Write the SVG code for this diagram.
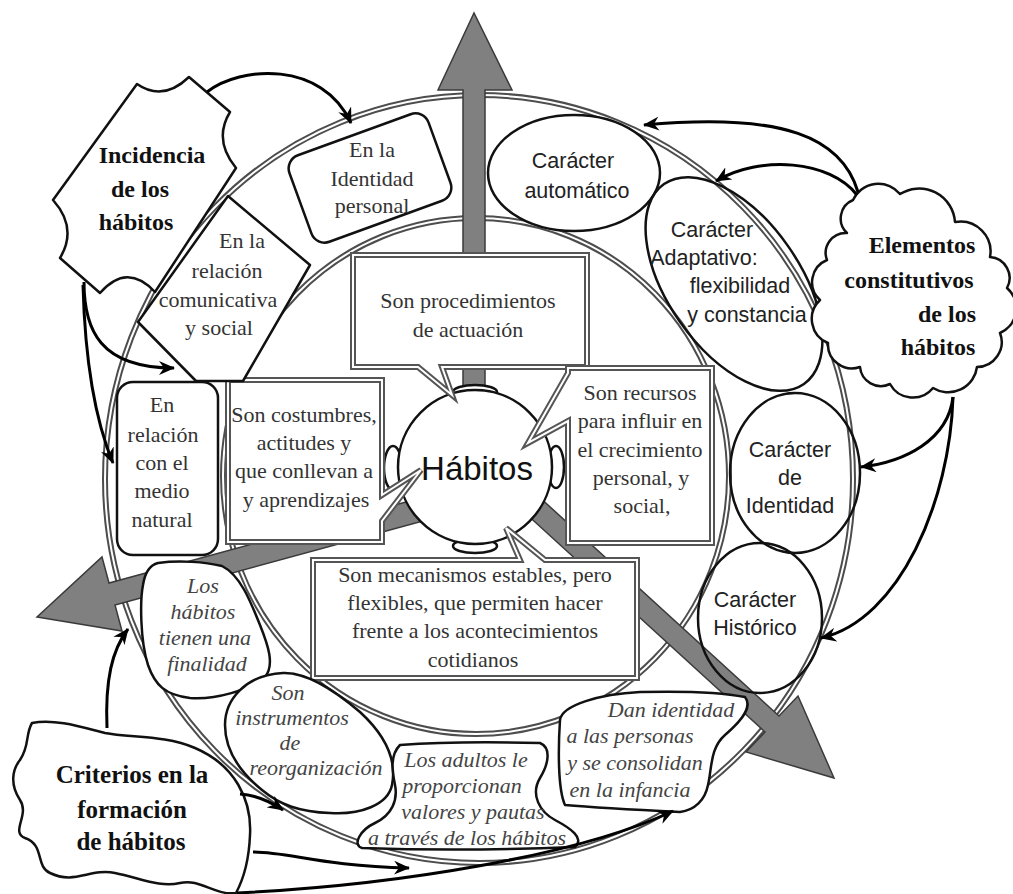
<svg xmlns="http://www.w3.org/2000/svg" width="1013" height="894" viewBox="0 0 1013 894">
<defs>
<style>
.ring-o{fill:none;stroke:#4d4d4d;stroke-width:6}
.ring-i{fill:none;stroke:#fff;stroke-width:2}
.ray{fill:#808080;stroke:#3a3a3a;stroke-width:1.5;stroke-linejoin:miter}
.nd{fill:#fff;stroke:#111;stroke-width:2.5;stroke-linejoin:round}
.ndn{fill:none;stroke:#111;stroke-width:2.5}
.sb-o{fill:#fff;stroke:#555;stroke-width:6;stroke-linejoin:miter}
.sb-i{fill:none;stroke:#fff;stroke-width:2;stroke-linejoin:miter}
.con{fill:none;stroke:#000;stroke-width:3;marker-end:url(#ah)}
.serif{font-family:"Liberation Serif","Times New Roman",serif;font-size:22px;fill:#333;text-anchor:middle}
.sans{font-family:"Liberation Sans",Arial,sans-serif;font-size:21.5px;fill:#222;text-anchor:middle}
.bold{font-family:"Liberation Serif","Times New Roman",serif;font-weight:bold;font-size:24px;fill:#111;text-anchor:middle}
.ital{font-family:"Liberation Serif","Times New Roman",serif;font-style:italic;font-size:22px;fill:#444;text-anchor:middle}
.big{font-family:"Liberation Sans",Arial,sans-serif;font-size:33px;fill:#111;text-anchor:middle}
</style>
<marker id="ah" markerUnits="userSpaceOnUse" markerWidth="18" markerHeight="14" refX="15" refY="7" orient="auto">
<path d="M0,0 L16,7 L0,14 L5,7 Z" fill="#000"/>
</marker>
</defs>
<rect width="1013" height="894" fill="#fff"/>

<g id="rings">
<ellipse class="ring-o" cx="479" cy="479" rx="374" ry="384"/>
<ellipse class="ring-i" cx="479" cy="479" rx="374" ry="384"/>
<ellipse class="ring-o" cx="476" cy="476" rx="253" ry="258"/>
<ellipse class="ring-i" cx="476" cy="476" rx="253" ry="258"/>
</g>

<g id="rays">
<polygon class="ray" points="463,395 463,90 438,90 474,13 512,90 485,90 485,395"/>
<polygon class="ray" points="417,499 109,583 102,557 37,617 122,631 115,605 423,521"/>
<polygon class="ray" points="537,495 779,716 798,696 834,778 746,752 765,732 523,511"/>
</g>

<g id="habitos">
<ellipse class="nd" cx="475" cy="392" rx="22" ry="7"/>
<ellipse class="nd" cx="475" cy="546" rx="22" ry="7"/>
<ellipse class="nd" cx="393" cy="468" rx="9" ry="22"/>
<ellipse class="nd" cx="556" cy="467" rx="8" ry="21"/>
<circle class="nd" cx="475" cy="467" r="77"/>
<text class="big" x="477" y="480">Hábitos</text>
</g>

<g id="sb-top">
<path class="sb-o" d="M353,255 H587 V367 H442 L452,395 L418,367 H353 Z"/>
<path class="sb-i" d="M353,255 H587 V367 H442 L452,395 L418,367 H353 Z"/>
<text class="serif" x="468" y="308">Son procedimientos</text>
<text class="serif" x="468" y="337">de actuación</text>
</g>

<g id="sb-left">
<path class="sb-o" d="M228,380 H382 V495 L421,470 L382,521 V542 H228 Z"/>
<path class="sb-i" d="M228,380 H382 V495 L421,470 L382,521 V542 H228 Z"/>
<text class="serif" x="304" y="422">Son costumbres,</text>
<text class="serif" x="304" y="450">actitudes y</text>
<text class="serif" x="304" y="478">que conllevan a</text>
<text class="serif" x="306" y="507">y aprendizajes</text>
</g>

<g id="sb-right">
<path class="sb-o" d="M568,368 H712 V543 H568 V421 L528,443 L568,373 Z"/>
<path class="sb-i" d="M568,368 H712 V543 H568 V421 L528,443 L568,373 Z"/>
<text class="serif" x="640" y="400">Son recursos</text>
<text class="serif" x="640" y="428">para influir en</text>
<text class="serif" x="640" y="457">el crecimiento</text>
<text class="serif" x="641" y="485">personal,  y</text>
<text class="serif" x="642" y="513">social,</text>
</g>

<g id="sb-bottom">
<path class="sb-o" d="M313,560 H520 L506,528 L545,560 H637 V678 H313 Z"/>
<path class="sb-i" d="M313,560 H520 L506,528 L545,560 H637 V678 H313 Z"/>
<text class="serif" x="475" y="582">Son mecanismos estables, pero</text>
<text class="serif" x="475" y="610">flexibles, que permiten  hacer</text>
<text class="serif" x="475" y="638">frente a los acontecimientos</text>
<text class="serif" x="473" y="667">cotidianos</text>
</g>

<g id="n-identidad-personal">
<rect class="nd" x="296" y="132" width="148" height="92" rx="14" transform="rotate(-20 370 178)"/>
<text class="serif" x="372" y="157">En la</text>
<text class="serif" x="372" y="186">Identidad</text>
<text class="serif" x="372" y="213">personal</text>
</g>

<g id="n-comunicativa">
<polygon class="nd" points="228,196 310,265 243,381 196,381 138,322"/>
<text class="serif" x="242" y="248">En la</text>
<text class="serif" x="227" y="278">relación</text>
<text class="serif" x="218" y="307">comunicativa</text>
<text class="serif" x="219" y="335">y social</text>
</g>

<g id="n-medio-natural">
<rect class="nd" x="117" y="382" width="101" height="173" rx="16"/>
<text class="serif" x="162" y="412">En</text>
<text class="serif" x="163" y="442">relación</text>
<text class="serif" x="162" y="470">con el</text>
<text class="serif" x="162" y="498">medio</text>
<text class="serif" x="162" y="527">natural</text>
</g>

<g id="n-automatico">
<ellipse class="nd" cx="574" cy="173" rx="86" ry="58"/>
<text class="sans" x="573" y="168">Carácter</text>
<text class="sans" x="577" y="198">automático</text>
</g>

<g id="n-adaptativo">
<ellipse class="ndn" cx="734" cy="284" rx="122" ry="66" transform="rotate(55 734 284)"/>
<text class="sans" x="712" y="237">Carácter</text>
<text class="sans" x="704" y="265">Adaptativo:</text>
<text class="sans" x="740" y="293">flexibilidad</text>
<text class="sans" x="747" y="322">y constancia</text>
</g>

<g id="n-identidad">
<ellipse class="ndn" cx="795" cy="473" rx="65" ry="80"/>
<text class="sans" x="790" y="457">Carácter</text>
<text class="sans" x="790" y="485">de</text>
<text class="sans" x="790" y="513">Identidad</text>
</g>

<g id="n-historico">
<ellipse class="ndn" cx="760" cy="618" rx="62" ry="75"/>
<text class="sans" x="755" y="607">Carácter</text>
<text class="sans" x="755" y="635">Histórico</text>
</g>

<g id="n-finalidad">
<path class="nd" d="M158,563 C180,560 205,562 222,566 C240,575 250,600 260,625 C268,645 275,665 265,677 C250,690 215,700 190,698 C165,695 155,685 148,665 C140,640 140,600 143,585 C145,572 150,565 158,563 Z"/>
<text class="ital" x="203" y="593">Los</text>
<text class="ital" x="203" y="619">hábitos</text>
<text class="ital" x="205" y="645">tienen una</text>
<text class="ital" x="207" y="671">finalidad</text>
</g>

<g id="n-instrumentos">
<path class="nd" d="M283,673 C310,672 340,695 360,712 C385,735 397,760 392,785 C388,805 360,815 330,813 C300,812 280,805 262,790 C240,772 225,750 225,725 C225,700 245,675 283,673 Z"/>
<text class="ital" x="288" y="700">Son</text>
<text class="ital" x="292" y="725">instrumentos</text>
<text class="ital" x="290" y="750">de</text>
<text class="ital" x="316" y="775">reorganización</text>
</g>

<g id="n-adultos">
<path class="nd" d="M400,745 C440,742 500,742 540,743 C552,748 548,765 540,778 C530,795 540,812 555,820 C570,828 585,838 575,847 C500,850 420,850 362,848 C352,845 360,830 375,823 C392,815 398,800 395,785 C392,770 390,755 400,745 Z"/>
<text class="ital" x="466" y="767">Los adultos le</text>
<text class="ital" x="462" y="793">proporcionan</text>
<text class="ital" x="473" y="819">valores y pautas</text>
<text class="ital" x="467" y="845">a través de los hábitos</text>
</g>

<g id="n-dan-identidad">
<path class="nd" d="M560,720 C562,705 600,694 640,692 C680,691 720,692 745,697 C752,706 745,718 725,735 C710,748 712,768 708,785 C705,800 695,810 680,812 C640,810 600,808 565,805 C558,790 558,750 560,720 Z"/>
<text class="ital" x="671" y="717">Dan identidad</text>
<text class="ital" x="630" y="743">a las personas</text>
<text class="ital" x="635" y="770">y se consolidan</text>
<text class="ital" x="630" y="797">en la infancia</text>
</g>

<g id="n-incidencia">
<path class="nd" d="M137,84 Q163,102 189,77 L230,112 Q213,140 236,168 L155,292 Q127,262 100,293 L60,258 Q78,228 53,200 Z"/>
<text class="bold" x="152" y="163">Incidencia</text>
<text class="bold" x="140" y="197">de los</text>
<text class="bold" x="136" y="230">hábitos</text>
</g>

<g id="n-elementos">
<path class="nd" d="M853,200 A28,28 0 0 1 900,194 A36,36 0 0 1 955,222 A30,30 0 0 1 990,257 A21,21 0 0 1 1007,288 A27,27 0 0 1 1000,333 A25,25 0 0 1 977,367 A29,29 0 0 1 933,388 A26,26 0 0 1 890,384 A21,21 0 0 1 860,367 A24,24 0 0 1 828,343 A26,26 0 0 1 820,300 A24,24 0 0 1 827,260 A20,20 0 0 1 847,233 A20,20 0 0 1 853,200 Z"/>
<text class="bold" x="922" y="253">Elementos</text>
<text class="bold" x="909" y="288">constitutivos</text>
<text class="bold" x="947" y="322">de los</text>
<text class="bold" x="938" y="355">hábitos</text>
</g>

<g id="n-criterios">
<path class="nd" d="M32,723 C55,718 85,728 105,733 C130,738 165,735 195,748 C235,765 252,800 250,835 C249,860 243,880 236,893 C215,896 200,878 180,883 C160,888 140,878 115,873 C90,868 75,885 50,873 C35,866 45,845 25,838 C10,832 30,815 20,800 C10,785 12,770 20,760 C30,745 25,735 32,723 Z"/>
<text class="bold" x="132" y="783" style="font-size:25px">Criterios en la</text>
<text class="bold" x="132" y="818" style="font-size:25px">formación</text>
<text class="bold" x="131" y="850" style="font-size:25px">de hábitos</text>
</g>

<g id="connectors">
<path class="con" d="M207,92 C240,66 322,60 351,123"/>
<path class="con" d="M84,282 C84,330 100,368 174,368"/>
<path class="con" d="M83,285 C85,360 95,420 113,463"/>
<path class="con" d="M858,192 C842,138 785,112 644,125"/>
<path class="con" d="M857,195 C830,160 760,155 716,181"/>
<path class="con" d="M953,397 C948,440 905,462 861,467"/>
<path class="con" d="M953,397 C950,500 900,620 821,638"/>
<path class="con" d="M107,728 C105,680 112,650 128,629"/>
<path class="con" d="M240,794 C255,795 268,800 283,810"/>
<path class="con" d="M253,852 C290,852 320,866 409,868"/>
<path class="con" d="M237,893 C400,885 580,855 673,811"/>
</g>
</svg>
